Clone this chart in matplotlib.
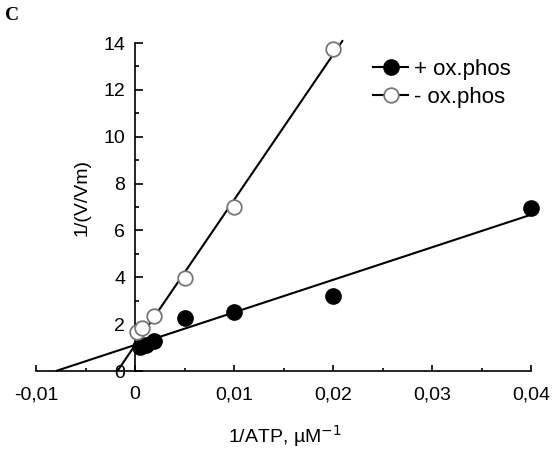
import matplotlib
matplotlib.use("Agg")
import matplotlib.pyplot as plt
from matplotlib.lines import Line2D
from matplotlib.ticker import MultipleLocator, FixedLocator
import numpy as np

plt.rcParams['font.family'] = ['Liberation Sans', 'DejaVu Sans']

# Data (1/ATP in uM^-1, 1/(V/Vm))
x_plus = [0.0005, 0.0011, 0.0019, 0.005, 0.01, 0.02, 0.04]
y_plus = [1.04, 1.11, 1.30, 2.28, 2.50, 3.20, 6.95]
x_minus = [0.00025, 0.0007, 0.0019, 0.005, 0.01, 0.02]
y_minus = [1.65, 1.82, 2.36, 3.96, 7.00, 13.75]

# Fitted lines: slope, intercept, x-range
fit_plus = dict(slope=139.0, intercept=1.11, xmin=-0.008, xmax=0.04)
fit_minus = dict(slope=620.0, intercept=1.10, xmin=-0.00177, xmax=0.0210)

xticks = [-0.01, 0.0, 0.01, 0.02, 0.03, 0.04]
xticklabels = ["-0,01", "0", "0,01", "0,02", "0,03", "0,04"]
yticks = [0, 2, 4, 6, 8, 10, 12, 14]
yticklabels = [str(v) for v in yticks]

W, H = 555, 450
fig = plt.figure(figsize=(W / 100, H / 100), dpi=100)
ax = fig.add_axes([36 / W, (H - 371) / H, 495 / W, 328 / H])
ax.set_xlim(-0.01, 0.04)
ax.set_ylim(0, 14)

for fit in (fit_plus, fit_minus):
    xs = np.array([fit['xmin'], fit['xmax']])
    ax.plot(xs, fit['slope'] * xs + fit['intercept'], color='black', lw=1.5,
            solid_capstyle='butt', zorder=2, clip_on=False)

ax.plot(x_plus, y_plus, 'o', ms=11, mfc='black', mec='black', mew=1,
        zorder=3, clip_on=False)
ax.plot(x_minus, y_minus, 'o', ms=10.5, mfc='white', mec='#777777', mew=1.3,
        zorder=4, clip_on=False)

ax.spines['top'].set_visible(False)
ax.spines['right'].set_visible(False)
ax.spines['left'].set_position(('data', 0))
for s in ('left', 'bottom'):
    ax.spines[s].set_linewidth(1.2)

ax.xaxis.set_major_locator(FixedLocator(xticks))
ax.set_xticklabels(xticklabels)
ax.xaxis.set_minor_locator(MultipleLocator(0.005))
ax.yaxis.set_major_locator(FixedLocator(yticks))
ax.set_yticklabels(yticklabels)
ax.yaxis.set_minor_locator(MultipleLocator(1))

ax.tick_params(axis='x', which='major', direction='in', length=4, width=1.2,
               labelsize=14, pad=11)
ax.tick_params(axis='x', which='minor', direction='in', length=2, width=1.2)
ax.tick_params(axis='y', which='major', direction='in', length=6, width=1.2,
               labelsize=14, pad=7)
ax.tick_params(axis='y', which='minor', direction='in', length=3, width=1.2)

fig.text(285 / W, 1 - 436 / H, "1/ATP, \u00b5M$^{-1}$", ha='center', va='center',
         fontsize=14)
fig.text(82 / W, 1 - 198 / H, "1/(V/Vm)", ha='center', va='center',
         rotation=90, fontsize=14)
fig.text(5 / W, 1 - 15 / H, "C", ha='left', va='center', fontsize=14,
         fontweight='bold', family='Liberation Serif')

handles = [
    Line2D([], [], color='black', lw=1.5, marker='o', ms=11, mfc='black',
           mec='black'),
    Line2D([], [], color='black', lw=1.5, marker='o', ms=10.5, mfc='white',
           mec='#777777', mew=1.3),
]
fig.legend(handles, ["+ ox.phos", "- ox.phos"], loc='upper left',
           bbox_to_anchor=(373 / W, 1 - 59 / H), frameon=False, fontsize=16,
           borderpad=0, borderaxespad=0, handlelength=1.58, handletextpad=0.25,
           labelspacing=0.3)

fig.savefig("out.png", dpi=100)
